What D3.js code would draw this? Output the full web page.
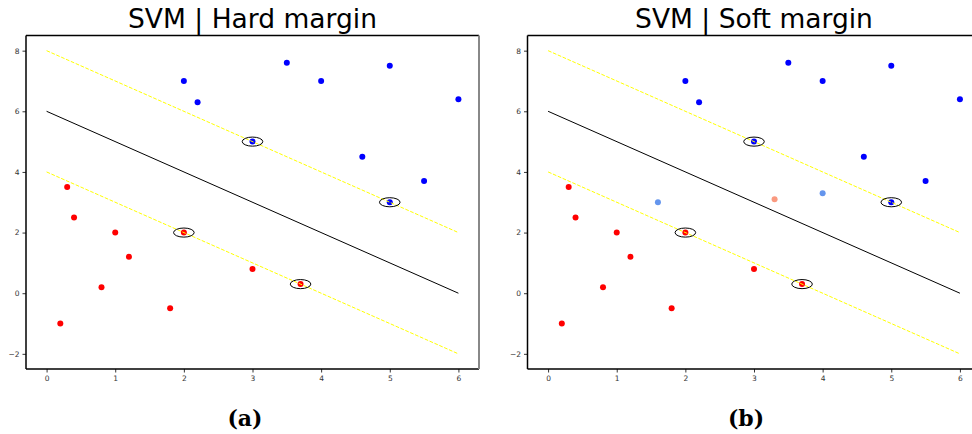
<!DOCTYPE html>
<html>
<head>
<meta charset="utf-8">
<script src="https://cdn.jsdelivr.net/npm/d3@7/dist/d3.min.js"></script>
<style>
  body { margin: 0; background: #fff; }
  svg { display: block; }
</style>
</head>
<body>
<svg id="chart" width="972" height="434"></svg>
<script>
// ---- data ----
const panelTitles = ["SVM | Hard margin", "SVM | Soft margin"];
const panelLabels = ["(a)", "(b)"];
const xTicks = [0, 1, 2, 3, 4, 5, 6];
const yTicks = [-2, 0, 2, 4, 6, 8];
const xDomain = [-0.3, 6.3];
const yDomain = [-2.5, 8.5];

const blueX = [2, 2.2, 3.5, 4, 5, 6, 3, 4.6, 5.5, 5];
const blueY = [7, 6.3, 7.6, 7, 7.5, 6.4, 5, 4.5, 3.7, 3];
const redX = [0.3, 0.4, 1, 1.2, 0.8, 0.2, 1.8, 2, 3, 3.7];
const redY = [3.5, 2.5, 2, 1.2, 0.2, -1, -0.5, 2, 0.8, 0.3];
const svX = [3, 5, 2, 3.7];
const svY = [5, 3, 2, 0.3];
const svRadius = 0.15;
// soft margin extra (misclassified / inside margin) points
const softBlueX = [1.6, 4];
const softBlueY = [3, 3.3];
const softRedX = [3.3];
const softRedY = [3.1];

// decision boundary and margins: y = c - x, x from 0 to 6
const lineX = [0, 6];
const boundaryC = 6;
const upperC = 8;
const lowerC = 4;

// ---- drawing ----
const svg = d3.select("#chart");
const panels = [
  { left: 26, right: 479, soft: false },
  { left: 527.5, right: 980.5, soft: true }
];
const plotTop = 35.5, plotBottom = 369;

panels.forEach((p, i) => {
  const x = d3.scaleLinear().domain(xDomain).range([p.left, p.right]);
  const y = d3.scaleLinear().domain(yDomain).range([plotBottom, plotTop]);
  const g = svg.append("g");

  const clipId = "clip" + i;
  svg.append("clipPath").attr("id", clipId)
    .append("rect").attr("x", p.left).attr("y", plotTop)
    .attr("width", p.right - p.left).attr("height", plotBottom - plotTop);
  const plot = g.append("g").attr("clip-path", `url(#${clipId})`);

  const dots = (xs, ys, color) => {
    plot.selectAll(null).data(xs.map((v, k) => [v, ys[k]])).enter()
      .append("circle")
      .attr("cx", d => x(d[0])).attr("cy", d => y(d[1]))
      .attr("r", 3).attr("fill", color);
  };
  dots(blueX, blueY, "#0000ff");
  dots(redX, redY, "#ff0000");
  if (p.soft) {
    dots(softBlueX, softBlueY, "#6495ed");
    dots(softRedX, softRedY, "#fa9a80");
  }

  const line = d3.line().x(d => x(d[0])).y(d => y(d[1]));
  const mk = c => lineX.map(v => [v, c - v]);

  plot.append("path").attr("d", line(mk(upperC)))
    .attr("fill", "none").attr("stroke", "#ffff00").attr("stroke-width", 1)
    .attr("stroke-dasharray", "3.7,1.6");
  plot.append("path").attr("d", line(mk(lowerC)))
    .attr("fill", "none").attr("stroke", "#ffff00").attr("stroke-width", 1)
    .attr("stroke-dasharray", "3.7,1.6");
  plot.append("path").attr("d", line(mk(boundaryC)))
    .attr("fill", "none").attr("stroke", "#000").attr("stroke-width", 1);

  plot.selectAll(null).data(svX.map((v, k) => [v, svY[k]])).enter()
    .append("ellipse")
    .attr("cx", d => x(d[0])).attr("cy", d => y(d[1]))
    .attr("rx", x(svRadius) - x(0)).attr("ry", y(0) - y(svRadius))
    .attr("fill", "none").attr("stroke", "#000").attr("stroke-width", 1);

  // axes
  const fmt = d => d < 0 ? "\u2212" + Math.abs(d) : d;
  const xAxis = d3.axisBottom(x).tickValues(xTicks).tickSize(3.5).tickPadding(3).tickFormat(fmt);
  const yAxis = d3.axisLeft(y).tickValues(yTicks).tickSize(3.5).tickPadding(3).tickFormat(fmt);
  const gx = g.append("g").attr("transform", `translate(0,${plotBottom})`).call(xAxis);
  const gy = g.append("g").attr("transform", `translate(${p.left},0)`).call(yAxis);
  [gx, gy].forEach(a => {
    a.select(".domain").remove();
    a.selectAll("text").attr("font-family", "DejaVu Sans").attr("font-size", 7.5).attr("fill", "#333");
    a.selectAll("line").attr("stroke", "#000").attr("stroke-width", 0.8);
  });

  // spines
  g.append("line").attr("x1", p.left).attr("x2", p.right).attr("y1", plotBottom).attr("y2", plotBottom)
    .attr("stroke", "#000").attr("stroke-width", 1.5);
  g.append("line").attr("x1", p.left).attr("x2", p.right).attr("y1", plotTop).attr("y2", plotTop)
    .attr("stroke", "#000").attr("stroke-width", 1.5);
  g.append("line").attr("x1", p.left).attr("x2", p.left).attr("y1", plotTop).attr("y2", plotBottom)
    .attr("stroke", "#000").attr("stroke-width", 1.5);
  g.append("line").attr("x1", p.right).attr("x2", p.right).attr("y1", plotTop).attr("y2", plotBottom)
    .attr("stroke", i === 0 ? "#888" : "#000").attr("stroke-width", 2);

  // title
  g.append("text").attr("x", (p.left + p.right) / 2).attr("y", 28)
    .attr("text-anchor", "middle").attr("font-family", "DejaVu Sans")
    .attr("font-size", 26.5).attr("fill", "#000").text(panelTitles[i]);

  // sub-label
  g.append("text").attr("x", i === 0 ? 245 : 746).attr("y", 426)
    .attr("text-anchor", "middle").attr("font-family", "DejaVu Serif")
    .attr("font-weight", "bold").attr("font-size", 22).attr("fill", "#000")
    .text(panelLabels[i]);
});
</script>
</body>
</html>
